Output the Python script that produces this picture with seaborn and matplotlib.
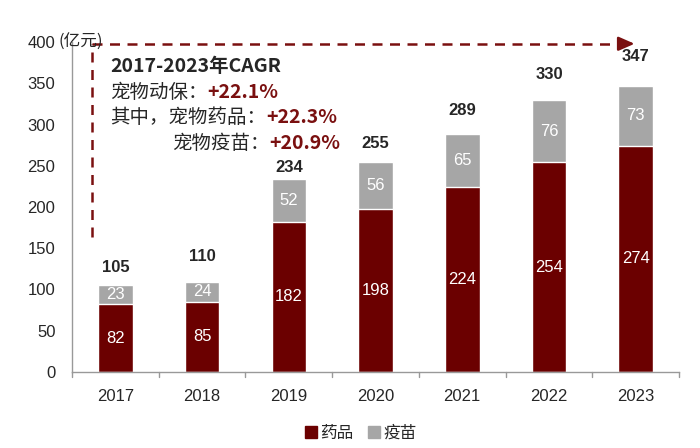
import matplotlib
matplotlib.use("Agg")
import matplotlib.pyplot as plt
from matplotlib.lines import Line2D
import seaborn as sns
import pandas as pd
import numpy as np

years = ["2017", "2018", "2019", "2020", "2021", "2022", "2023"]
drugs = [82, 85, 182, 198, 224, 254, 274]
vaccines = [23, 24, 52, 56, 65, 76, 73]
totals = [105, 110, 234, 255, 289, 330, 347]
yticks = [0, 50, 100, 150, 200, 250, 300, 350, 400]

# style: offset (points) of each total label above its bar
total_label_offsets = [13, 18, 8, 14, 17, 18, 21]

RED = "#6B0000"
GRAY = "#A6A6A6"
TXTRED = "#7A1010"

sns.set_theme(style="white")
plt.rcParams['font.family'] = ['Liberation Sans', 'Noto Sans CJK SC', 'DejaVu Sans']
CJK = ['Noto Sans CJK SC', 'Liberation Sans', 'DejaVu Sans']

df = pd.DataFrame({"year": years, "drug": drugs, "vac": vaccines,
                   "stack": [d + v for d, v in zip(drugs, vaccines)]})

fig = plt.figure(figsize=(7, 4.48), dpi=100)
ax = fig.add_axes([0.103, 0.170, 0.867, 0.736])

sns.barplot(data=df, x="year", y="stack", color=GRAY, width=0.4, saturation=1, ax=ax)
sns.barplot(data=df, x="year", y="drug", color=RED, width=0.4, saturation=1, ax=ax)

ax.set_ylim(0, 400)
ax.set_xlim(-0.5, 6.5)
ax.set_yticks(yticks)
ax.set_xlabel("")
ax.set_ylabel("")
for s in ["top", "right"]:
    ax.spines[s].set_visible(False)
for s in ["left", "bottom"]:
    ax.spines[s].set_color("#999999")
    ax.spines[s].set_linewidth(1)
ax.tick_params(axis="y", length=0, labelsize=12, pad=12)
ax.tick_params(axis="x", length=0, labelsize=12, pad=12)
for b in np.arange(-0.5, 7.0, 1.0):
    ax.plot([b, b], [0, -6], color="#999999", lw=1, clip_on=False)

ax.annotate("(亿元)", xy=(0, 400), xycoords=("axes fraction", "data"),
            xytext=(-10, 0), textcoords="offset points",
            fontsize=12, family=CJK, ha="left", va="center")

for i in range(len(years)):
    ax.text(i, drugs[i] / 2, str(drugs[i]), color="white", fontsize=12, ha="center", va="center")
    ax.text(i, drugs[i] + vaccines[i] / 2, str(vaccines[i]), color="white", fontsize=12,
            ha="center", va="center")
    ax.annotate(str(totals[i]), (i, drugs[i] + vaccines[i]), xytext=(0, total_label_offsets[i]),
                textcoords="offset points", ha="center", va="center",
                fontsize=12, fontweight="bold")

# dashed arrow
ax.plot([-0.27, -0.27], [164, 398], ls=(0, (4, 3)), color=TXTRED, lw=1.8)
ax.plot([-0.27, 5.9], [398, 398], ls=(0, (4, 3)), color=TXTRED, lw=1.8)
ax.annotate("", xy=(6.02, 398), xytext=(5.8, 398),
            arrowprops=dict(arrowstyle="-|>,head_length=0.8,head_width=0.35",
                            color=TXTRED, lw=1.8))

# annotation text block
FS = 14
ax.text(-0.06, 370, "2017-2023年CAGR", fontsize=FS, fontweight="bold", family=CJK,
        ha="left", va="center")


def two_part(x, y, black, red):
    t = ax.text(x, y, black, fontsize=FS, family=CJK, ha="left", va="center")
    ax.annotate(red, xy=(1, 0.5), xycoords=t, xytext=(0, 0), textcoords="offset points",
                fontsize=FS, fontweight="bold", color=TXTRED, family=CJK,
                ha="left", va="center")


two_part(-0.06, 339, "宠物动保：", "+22.1%")
two_part(-0.06, 308, "其中，宠物药品：", "+22.3%")
two_part(0.65, 277, "宠物疫苗：", "+20.9%")

handles = [Line2D([], [], marker="s", ls="", color=RED, markersize=8),
           Line2D([], [], marker="s", ls="", color=GRAY, markersize=8)]
fig.legend(handles, ["药品", "疫苗"], loc="center", bbox_to_anchor=(0.515, 0.033),
           ncol=2, frameon=False, handletextpad=0.2, columnspacing=0.8,
           handlelength=0.8, prop={"family": CJK, "size": 12})

fig.savefig("out.png", dpi=100)
